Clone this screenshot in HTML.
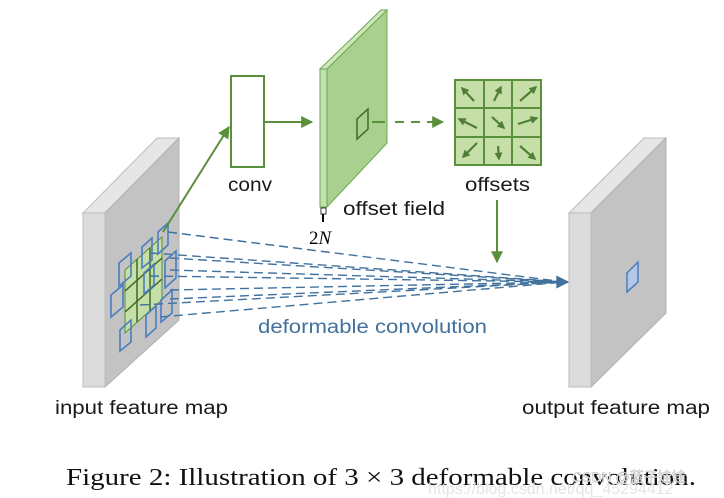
<!DOCTYPE html>
<html><head><style>
html,body{margin:0;padding:0;background:#fff;}
svg{display:block;}
</style></head><body>
<svg width="724" height="498" viewBox="0 0 724 498" xmlns="http://www.w3.org/2000/svg">
<defs>
<marker id="gb" viewBox="0 0 10 10" refX="9" refY="5" markerWidth="14" markerHeight="12" orient="auto" markerUnits="userSpaceOnUse"><path d="M0,0 L10,5 L0,10 z" fill="#5a8f3c"/></marker>
<marker id="sa" viewBox="0 0 10 10" refX="8" refY="5" markerWidth="8" markerHeight="8" orient="auto" markerUnits="userSpaceOnUse"><path d="M0,0 L10,5 L0,10 z" fill="#4f7f35"/></marker>
<marker id="ba" viewBox="0 0 10 10" refX="9" refY="5" markerWidth="16" markerHeight="13" orient="auto" markerUnits="userSpaceOnUse"><path d="M0,0 L10,5 L0,10 z" fill="#41719c"/></marker>
</defs>

<polygon points="83,213 105,213 179,138 157,138" fill="#e6e6e6" stroke="#bdbdbd"/>
<polygon points="105,213 179,138 179,320 105,387" fill="#c3c3c3" stroke="#b0b0b0"/>
<rect x="83" y="213" width="22" height="174" fill="#dcdcdc" stroke="#bdbdbd"/>

<polygon points="125,270 162,237 162,300 125,333" fill="#c6dfa8" stroke="#5a8f3c" stroke-width="1"/>
<g stroke="#3d6b26" stroke-width="1.5">
<line x1="137" y1="259" x2="137" y2="322"/><line x1="150" y1="248" x2="150" y2="311"/>
<line x1="125" y1="291" x2="162" y2="258"/><line x1="125" y1="312" x2="162" y2="279"/>
</g>

<g stroke="#41719c" stroke-width="1.4" stroke-dasharray="9,5" fill="none">
<line x1="168" y1="232" x2="565" y2="282"/>
<line x1="170" y1="258" x2="565" y2="282"/>
<line x1="170" y1="270" x2="565" y2="282"/>
<line x1="170" y1="290" x2="565" y2="282"/>
<line x1="170" y1="299" x2="565" y2="282"/>
<line x1="160" y1="317" x2="565" y2="282"/>
<line x1="150" y1="253" x2="565" y2="282"/>
<line x1="150" y1="276" x2="565" y2="282"/>
<line x1="140" y1="305" x2="565" y2="282"/>
</g>
<line x1="530" y1="282" x2="568" y2="282" stroke="#41719c" stroke-width="2" marker-end="url(#ba)"/>

<g fill="none" stroke="#4a7ebf" stroke-width="1.6">
<polygon points="158,232 168,223 168,245 158,254"/>
<polygon points="142,247 152,238 152,260 142,268"/>
<polygon points="119,263 131,253 131,276 119,286"/>
<polygon points="165,261 176,251 176,278 165,288"/>
<polygon points="144,273 154,264 154,285 144,294"/>
<polygon points="111,295 123,285 123,307 111,317"/>
<polygon points="161,300 172,290 172,313 161,322"/>
<polygon points="146,315 156,306 156,328 146,337"/>
<polygon points="120,330 131,320 131,342 120,351"/>
</g>

<line x1="163" y1="232" x2="229" y2="127" stroke="#5a8f3c" stroke-width="2" marker-end="url(#gb)"/>

<rect x="231" y="76" width="33" height="91" fill="#fff" stroke="#5a8f3c" stroke-width="2"/>
<line x1="264" y1="122" x2="312" y2="122" stroke="#5a8f3c" stroke-width="2" marker-end="url(#gb)"/>

<polygon points="320,69 327,69 387,10 387,143 327,207 320,207" fill="#a9d08e" stroke="#6aa84f"/>
<polygon points="320,69 327,69 387,10 381,10" fill="#d0e6bd" stroke="#6aa84f"/>
<rect x="320" y="69" width="7" height="138" fill="#c2dfae" stroke="#6aa84f"/>
<polygon points="357,119 368,109 368,129 357,139" fill="none" stroke="#3d6b26" stroke-width="1.5"/>
<line x1="372" y1="122" x2="385" y2="122" stroke="#5a8f3c" stroke-width="2"/>
<line x1="395" y1="122" x2="443" y2="122" stroke="#5a8f3c" stroke-width="2" stroke-dasharray="9,7" marker-end="url(#gb)"/>
<rect x="321" y="208" width="5" height="6" fill="#fff" stroke="#333" stroke-width="1"/>
<line x1="323" y1="214" x2="323" y2="222" stroke="#000" stroke-width="2"/>

<rect x="455" y="80" width="86" height="85" fill="#c6dfa8" stroke="#5a8f3c" stroke-width="2"/>
<g stroke="#5a8f3c" stroke-width="2">
<line x1="484" y1="80" x2="484" y2="165"/><line x1="512" y1="80" x2="512" y2="165"/>
<line x1="455" y1="108" x2="541" y2="108"/><line x1="455" y1="137" x2="541" y2="137"/>
</g>
<g stroke="#4f7f35" stroke-width="2.2" marker-end="url(#sa)">
<line x1="474" y1="101" x2="462" y2="88"/>
<line x1="494" y1="101" x2="501" y2="87"/>
<line x1="520" y1="101" x2="536" y2="87"/>
<line x1="477" y1="128" x2="459" y2="119"/>
<line x1="492" y1="117" x2="504" y2="128"/>
<line x1="518" y1="124" x2="537" y2="118"/>
<line x1="477" y1="143" x2="463" y2="157"/>
<line x1="498" y1="146" x2="499" y2="159"/>
<line x1="520" y1="146" x2="535" y2="159"/>
</g>
<line x1="497" y1="200" x2="497" y2="262" stroke="#5a8f3c" stroke-width="2" marker-end="url(#gb)"/>

<polygon points="569,213 591,213 666,138 644,138" fill="#e6e6e6" stroke="#bdbdbd"/>
<polygon points="591,213 666,138 666,313 591,387" fill="#c3c3c3" stroke="#b0b0b0"/>
<rect x="569" y="213" width="22" height="174" fill="#dcdcdc" stroke="#bdbdbd"/>
<polygon points="627,273 638,262 638,282 627,292" fill="#b4c7e7" stroke="#4a7ebf" stroke-width="1.5"/>

<g font-family="'Liberation Sans', 'DejaVu Sans', sans-serif" font-size="19" fill="#1a1a1a" lengthAdjust="spacingAndGlyphs">
<text x="228" y="191" textLength="44" lengthAdjust="spacingAndGlyphs">conv</text>
<text x="465" y="191" textLength="65" lengthAdjust="spacingAndGlyphs">offsets</text>
<text x="343" y="215" textLength="102" lengthAdjust="spacingAndGlyphs">offset field</text>
<text x="55" y="414" textLength="173" lengthAdjust="spacingAndGlyphs">input feature map</text>
<text x="522" y="414" textLength="188" lengthAdjust="spacingAndGlyphs">output feature map</text>
<text x="258" y="333" fill="#41719c" textLength="229" lengthAdjust="spacingAndGlyphs">deformable convolution</text>
</g>
<text x="309" y="244" font-family="'Liberation Serif', serif" font-size="19" fill="#000">2<tspan font-style="italic">N</tspan></text>
<text x="66" y="485" font-family="'Liberation Serif', serif" font-size="24" fill="#111" textLength="630" lengthAdjust="spacingAndGlyphs">Figure 2: Illustration of 3 × 3 deformable convolution.</text>
<text x="428" y="494" font-family="'Liberation Sans', sans-serif" font-size="16" fill="#e4e4e4">https://blog.csdn.net/qq_45294412</text>
<text x="572" y="482" font-family="'Liberation Sans', 'Noto Sans CJK SC', sans-serif" font-size="14" fill="#ffffff" stroke="#aaa" stroke-width="0.4">CSDN @蓝子娃娃</text>
</svg>
</body></html>
